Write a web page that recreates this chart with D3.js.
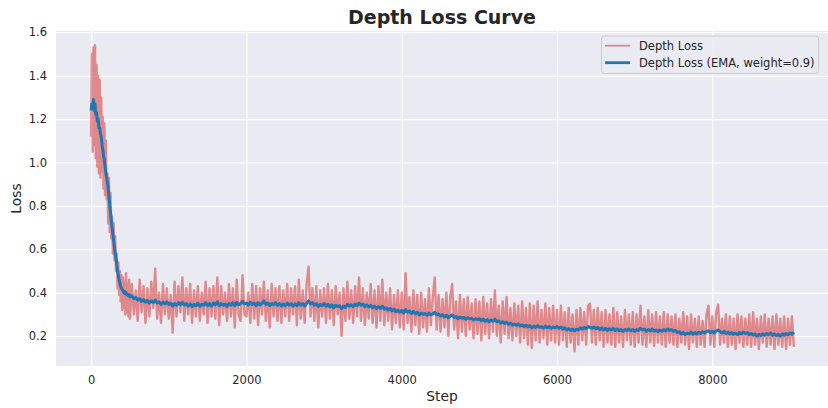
<!DOCTYPE html>
<html><head><meta charset="utf-8">
<script src="https://cdn.jsdelivr.net/npm/d3@7"></script>
<style>
body{margin:0;background:#fff}
svg{display:block}
text{font-family:"DejaVu Sans",sans-serif;fill:#262626}
</style>
</head><body>
<svg id="chart" width="828" height="408"></svg>
<script>
// ---- data ----
// steps: every 10 steps up to 490, then every 25 steps up to 9050
const earlySteps = d3.range(0, 500, 10);
const laterSteps = d3.range(500, 9051, 25);
const rawLoss = [
// steps 0..490 (every 10)
1.12,1.50,1.05,1.53,1.08,1.54,1.02,1.45,0.98,1.40,0.95,1.38,0.93,1.30,0.96,1.21,0.88,1.18,0.85,1.10,
0.83,0.95,0.72,0.93,0.68,0.86,0.65,0.75,0.58,0.72,0.55,0.66,0.50,0.58,0.42,0.54,0.39,0.50,0.36,0.48,
0.32,0.47,0.33,0.45,0.30,0.49,0.31,0.44,0.29,0.46,
// steps 500.. (every 25)
0.28,0.44,0.30,0.41,0.27,0.46,0.31,0.43,0.26,0.42,0.29,0.45,0.33,0.51,0.28,0.40,0.26,0.44,0.30,0.42,
0.28,0.39,0.215,0.45,0.29,0.43,0.31,0.47,0.27,0.42,0.30,0.44,0.26,0.41,0.29,0.43,0.27,0.40,0.30,0.45,
0.26,0.42,0.29,0.43,0.28,0.47,0.25,0.43,0.30,0.40,0.27,0.44,0.29,0.42,0.24,0.46,0.30,0.27,0.48,0.30,
0.29,0.40,0.26,0.44,0.28,0.43,0.25,0.42,0.30,0.45,0.27,0.41,0.24,0.44,0.29,0.42,0.27,0.43,0.26,0.41,
0.29,0.44,0.27,0.42,0.30,0.43,0.25,0.46,0.28,0.41,0.26,0.44,0.52,0.29,0.42,0.27,0.43,0.24,0.41,0.29,
0.42,0.26,0.44,0.28,0.41,0.25,0.43,0.30,0.40,0.20,0.42,0.27,0.45,0.28,0.41,0.26,0.43,0.29,0.47,0.27,
0.42,0.25,0.40,0.28,0.44,0.26,0.41,0.24,0.43,0.27,0.46,0.25,0.40,0.27,0.42,0.23,0.39,0.26,0.41,0.24,
0.40,0.23,0.49,0.26,0.38,0.22,0.41,0.25,0.39,0.21,0.40,0.24,0.37,0.22,0.42,0.25,0.38,0.47,0.23,0.39,
0.22,0.37,0.24,0.40,0.20,0.38,0.44,0.23,0.36,0.19,0.39,0.22,0.37,0.20,0.38,0.23,0.35,0.19,0.37,0.21,
0.36,0.18,0.38,0.21,0.35,0.19,0.37,0.22,0.41,0.20,0.34,0.17,0.36,0.21,0.38,0.19,0.33,0.18,0.35,0.20,
0.34,0.17,0.36,0.19,0.33,0.16,0.35,0.145,0.34,0.18,0.36,0.17,0.32,0.19,0.35,0.16,0.33,0.18,0.34,0.17,
0.32,0.16,0.34,0.18,0.31,0.15,0.33,0.17,0.30,0.13,0.32,0.16,0.33,0.18,0.31,0.16,0.34,0.35,0.17,0.32,
0.16,0.33,0.18,0.31,0.15,0.32,0.17,0.30,0.16,0.33,0.15,0.31,0.17,0.29,0.15,0.32,0.18,0.30,0.16,0.31,
0.15,0.30,0.17,0.34,0.16,0.29,0.15,0.32,0.17,0.30,0.155,0.31,0.17,0.29,0.16,0.31,0.15,0.30,0.17,0.29,
0.16,0.30,0.15,0.28,0.17,0.31,0.16,0.29,0.14,0.30,0.17,0.28,0.15,0.29,0.16,0.27,0.15,0.30,0.34,0.16,
0.29,0.15,0.31,0.345,0.16,0.28,0.17,0.30,0.15,0.29,0.16,0.28,0.14,0.30,0.17,0.29,0.15,0.28,0.16,0.30,
0.15,0.31,0.16,0.28,0.14,0.29,0.17,0.30,0.15,0.28,0.16,0.29,0.14,0.30,0.16,0.28,0.15,0.29,0.14,0.28,
0.16,0.29,0.15
];
const emaLoss = [
// steps 0..490 (every 10)
1.24,1.27,1.25,1.29,1.24,1.27,1.22,1.23,1.19,1.20,1.16,1.16,1.13,1.12,1.08,1.06,1.03,1.01,0.98,0.95,
0.93,0.91,0.88,0.84,0.80,0.77,0.73,0.70,0.67,0.64,0.61,0.58,0.56,0.53,0.50,0.48,0.46,0.445,0.43,0.42,
0.415,0.41,0.40,0.405,0.395,0.40,0.39,0.392,0.385,0.39,
// steps 500.. (every 25)
0.38,0.385,0.372,0.378,0.366,0.372,0.36,0.368,0.356,0.364,0.352,0.362,0.354,0.366,0.352,0.358,0.346,0.356,0.348,0.358,
0.346,0.352,0.338,0.35,0.342,0.354,0.344,0.356,0.342,0.35,0.338,0.348,0.336,0.346,0.34,0.352,0.338,0.346,0.342,0.354,
0.34,0.35,0.338,0.352,0.344,0.358,0.34,0.35,0.342,0.348,0.336,0.35,0.342,0.354,0.34,0.356,0.344,0.35,0.36,0.348,
0.352,0.342,0.356,0.346,0.352,0.34,0.354,0.344,0.35,0.362,0.346,0.352,0.34,0.35,0.344,0.354,0.342,0.35,0.338,0.348,
0.34,0.352,0.342,0.35,0.338,0.348,0.34,0.354,0.342,0.35,0.338,0.352,0.362,0.348,0.354,0.342,0.35,0.336,0.346,0.34,
0.35,0.338,0.346,0.334,0.344,0.33,0.342,0.336,0.34,0.326,0.338,0.332,0.346,0.338,0.344,0.336,0.348,0.34,0.352,0.342,
0.348,0.336,0.344,0.334,0.342,0.33,0.338,0.326,0.336,0.328,0.338,0.324,0.33,0.32,0.328,0.316,0.324,0.312,0.32,0.31,
0.318,0.306,0.322,0.31,0.316,0.304,0.314,0.302,0.31,0.298,0.306,0.3,0.304,0.296,0.306,0.298,0.302,0.31,0.298,0.302,
0.292,0.298,0.288,0.296,0.284,0.292,0.298,0.286,0.29,0.28,0.288,0.282,0.286,0.278,0.284,0.28,0.282,0.274,0.28,0.276,
0.28,0.27,0.278,0.268,0.276,0.266,0.274,0.268,0.278,0.266,0.27,0.26,0.266,0.258,0.264,0.254,0.26,0.25,0.256,0.25,
0.256,0.246,0.252,0.244,0.25,0.242,0.248,0.238,0.246,0.24,0.248,0.24,0.244,0.236,0.246,0.238,0.244,0.236,0.242,0.238,
0.244,0.236,0.242,0.232,0.238,0.228,0.234,0.226,0.232,0.224,0.232,0.228,0.238,0.232,0.24,0.234,0.244,0.24,0.236,0.242,
0.234,0.24,0.23,0.238,0.228,0.236,0.226,0.234,0.228,0.236,0.226,0.232,0.224,0.23,0.222,0.23,0.226,0.232,0.224,0.23,
0.222,0.23,0.226,0.236,0.228,0.232,0.222,0.23,0.224,0.232,0.222,0.228,0.22,0.228,0.222,0.23,0.224,0.232,0.226,0.23,
0.222,0.226,0.216,0.22,0.21,0.216,0.206,0.214,0.21,0.218,0.208,0.216,0.21,0.218,0.212,0.22,0.214,0.222,0.224,0.216,
0.222,0.214,0.224,0.228,0.22,0.214,0.222,0.212,0.218,0.21,0.216,0.208,0.214,0.206,0.216,0.21,0.218,0.212,0.216,0.206,
0.212,0.204,0.21,0.2,0.208,0.202,0.21,0.204,0.212,0.206,0.214,0.204,0.21,0.202,0.208,0.2,0.21,0.204,0.212,0.206,
0.214,0.208,0.218
];
const xTicks = [0, 2000, 4000, 6000, 8000];
const yTicks = [0.2, 0.4, 0.6, 0.8, 1.0, 1.2, 1.4, 1.6];
const seriesNames = ["Depth Loss", "Depth Loss (EMA, weight=0.9)"];
const titleText = "Depth Loss Curve";
const xLabel = "Step";
const yLabel = "Loss";

// ---- layout ----
const W = 828, H = 408;
const plot = {left: 56, right: 829, top: 31, bottom: 366};
const svg = d3.select("#chart");

const steps = earlySteps.concat(laterSteps);
const xMin = d3.min(steps), xMax = d3.max(steps);
const xPad = (xMax - xMin) * 0.05;
const x = d3.scaleLinear().domain([xMin - xPad, xMax + xPad]).range([plot.left, plot.right]);
const y = d3.scaleLinear().domain([0.062, 1.606]).range([plot.bottom, plot.top]);

svg.append("rect").attr("x", 0).attr("y", 0).attr("width", W).attr("height", H).attr("fill", "#ffffff");
svg.append("rect").attr("x", plot.left).attr("y", plot.top)
  .attr("width", W - plot.left).attr("height", plot.bottom - plot.top).attr("fill", "#EAEAF2");

svg.append("defs").append("clipPath").attr("id", "clip")
  .append("rect").attr("x", plot.left).attr("y", plot.top)
  .attr("width", W - plot.left).attr("height", plot.bottom - plot.top);

const gx = svg.append("g").attr("transform", `translate(0,${plot.bottom})`)
  .call(d3.axisBottom(x).tickValues(xTicks).tickSize(-(plot.bottom - plot.top)).tickPadding(10).tickFormat(d3.format("d")));
gx.select(".domain").remove();
gx.selectAll("line").attr("stroke", "#ffffff").attr("stroke-width", 1.1);
gx.selectAll("text").attr("font-size", "11.5px").attr("fill", "#262626").attr("font-family", "DejaVu Sans");

const gy = svg.append("g").attr("transform", `translate(${plot.left},0)`)
  .call(d3.axisLeft(y).tickValues(yTicks).tickSize(-(W - plot.left)).tickPadding(9).tickFormat(d3.format(".1f")));
gy.select(".domain").remove();
gy.selectAll("line").attr("stroke", "#ffffff").attr("stroke-width", 1.1);
gy.selectAll("text").attr("font-size", "11.5px").attr("fill", "#262626").attr("font-family", "DejaVu Sans");

const line = d3.line().x((d, i) => x(steps[i])).y(d => y(d));
const g = svg.append("g").attr("clip-path", "url(#clip)");
g.append("path").datum(rawLoss).attr("d", line)
  .attr("fill", "none").attr("stroke", "#d62728").attr("stroke-opacity", 0.5)
  .attr("stroke-width", 2.4).attr("stroke-linejoin", "round");
g.append("path").datum(emaLoss).attr("d", line)
  .attr("fill", "none").attr("stroke", "#1f77b4")
  .attr("stroke-width", 3).attr("stroke-linejoin", "round");

svg.append("text").attr("x", 442).attr("y", 24).attr("text-anchor", "middle")
  .attr("font-size", "19px").attr("font-weight", "bold").text(titleText);
svg.append("text").attr("x", 442).attr("y", 401).attr("text-anchor", "middle")
  .attr("font-size", "13.8px").text(xLabel);
svg.append("text").attr("transform", `translate(21,${(plot.top + plot.bottom) / 2}) rotate(-90)`)
  .attr("text-anchor", "middle").attr("font-size", "13.8px").text(yLabel);

const lg = svg.append("g");
lg.append("rect").attr("x", 601.5).attr("y", 36).attr("width", 217).attr("height", 37.5)
  .attr("rx", 3).attr("fill", "#EAEAF2").attr("fill-opacity", 0.8).attr("stroke", "#cccccc").attr("stroke-width", 1);
const legendItems = [
  {name: seriesNames[0], color: "#d62728", opacity: 0.5, width: 1.8, cy: 45.7},
  {name: seriesNames[1], color: "#1f77b4", opacity: 1, width: 2.8, cy: 62.7}
];
legendItems.forEach(it => {
  lg.append("line").attr("x1", 605).attr("x2", 630).attr("y1", it.cy).attr("y2", it.cy)
    .attr("stroke", it.color).attr("stroke-opacity", it.opacity).attr("stroke-width", it.width);
  lg.append("text").attr("x", 639).attr("y", it.cy + 4).attr("font-size", "11.5px").text(it.name);
});
</script>
</body></html>
